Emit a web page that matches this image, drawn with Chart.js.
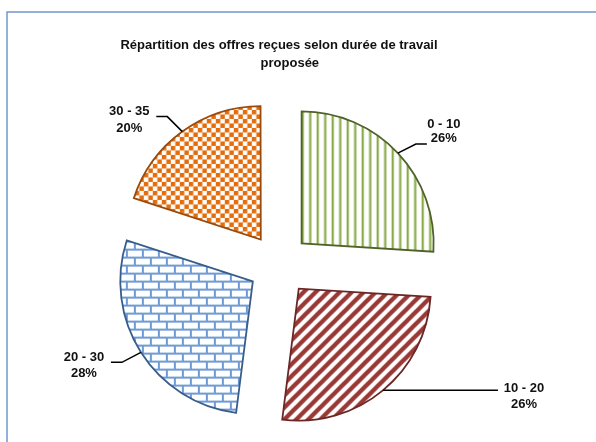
<!DOCTYPE html>
<html><head><meta charset="utf-8">
<script src="https://cdn.jsdelivr.net/npm/chart.js@4"></script>
<style>html,body{margin:0;padding:0;background:#fff;overflow:hidden}#wrap{width:596px;height:442px;position:relative}</style>
</head><body><div id="wrap"><canvas id="c" width="596" height="442"></canvas></div>
<script>
// ---- data ----
const categories = ['0 - 10', '10 - 20', '20 - 30', '30 - 35'];
const shares = [26, 26, 28, 20];
const titleLines = ['Répartition des offres reçues selon durée de travail', '\u00a0\u00a0\u00a0\u00a0\u00a0\u00a0proposée'];

// ---- styling / label placement (not data) ----
const borderColors = ['#4f6228', '#6b2626', '#385d8a', '#9a4a0c'];
const leaderElbows = [[18, -9], [0, 0], [-19, 10], [-15, -15]];
const leaderRuns = [11, 115, -11, -11];
const labelOffsets = [[17, -20, -6], [26, -2, 14], [-27, -5, 11], [-27, -5, 12]];
const FONT = '"Liberation Sans", Arial, sans-serif';

function tile(w, h, draw) {
  const c = document.createElement('canvas');
  c.width = w; c.height = h;
  const g = c.getContext('2d');
  g.fillStyle = '#fff'; g.fillRect(0, 0, w, h);
  draw(g, w, h);
  return g.createPattern(c, 'repeat');
}
const greenPattern = tile(15, 15, g => {
  g.fillStyle = '#88aa48';
  g.fillRect(1.5, 0, 2.2, 15);
  g.fillRect(9, 0, 2.2, 15);
});
const redPattern = tile(12, 12, g => {
  g.strokeStyle = '#9a3835'; g.lineWidth = 4.4;
  for (let k = -1; k <= 1; k++) {
    g.beginPath(); g.moveTo(k * 12 - 3, 15); g.lineTo(k * 12 + 15, -3); g.stroke();
  }
});
const bluePattern = tile(16, 16, g => {
  g.fillStyle = '#6e9ad6';
  g.fillRect(0, 0, 16, 2);
  g.fillRect(0, 8, 16, 2);
  g.fillRect(0, 0, 2, 8);
  g.fillRect(8, 8, 2, 8);
});
const orangePattern = tile(9, 9, g => {
  g.fillStyle = '#e46c0a';
  g.fillRect(0, 0, 4.5, 4.5);
  g.fillRect(4.5, 4.5, 4.5, 4.5);
});

const framePlugin = {
  id: 'frame',
  beforeDraw(chart) {
    const ctx = chart.ctx;
    ctx.save();
    ctx.strokeStyle = '#7099d0'; ctx.lineWidth = 1.5;
    ctx.beginPath(); ctx.moveTo(7, 442); ctx.lineTo(7, 12); ctx.lineTo(596, 12); ctx.stroke();
    ctx.restore();
  }
};

const labelPlugin = {
  id: 'sliceLabels',
  afterDatasetsDraw(chart) {
    const ctx = chart.ctx;
    const meta = chart.getDatasetMeta(0);
    const total = shares.reduce((a, b) => a + b, 0);
    ctx.save();
    meta.data.forEach((arc, i) => {
      const p = arc.getProps(['x', 'y', 'startAngle', 'endAngle', 'outerRadius', 'circumference'], true);
      const off = (arc.options.offset || 0) / 4;
      const fix = 1 - Math.sin(Math.min(Math.PI, p.circumference || 0));
      const mid = (p.startAngle + p.endAngle) / 2;
      const r = off + p.outerRadius + off * fix;
      const bx = p.x + Math.cos(mid) * r, by = p.y + Math.sin(mid) * r;
      const ex = bx + leaderElbows[i][0], ey = by + leaderElbows[i][1];
      const fx = ex + leaderRuns[i], fy = ey;
      ctx.strokeStyle = '#000'; ctx.lineWidth = 1.5;
      ctx.beginPath(); ctx.moveTo(bx, by); ctx.lineTo(ex, ey); ctx.lineTo(fx, fy); ctx.stroke();
      ctx.fillStyle = '#111';
      ctx.font = 'bold 13px ' + FONT;
      ctx.textAlign = 'center'; ctx.textBaseline = 'middle';
      const o = labelOffsets[i];
      ctx.fillText(categories[i], fx + o[0], fy + o[1]);
      ctx.fillText(Math.round(shares[i] / total * 100) + '%', fx + o[0], fy + o[2]);
    });
    ctx.restore();
  }
};

new Chart(document.getElementById('c'), {
  type: 'pie',
  data: {
    labels: categories,
    datasets: [{
      data: shares,
      backgroundColor: [greenPattern, redPattern, bluePattern, orangePattern],
      borderColor: borderColors,
      borderWidth: 1.8,
      borderJoinStyle: 'miter',
      offset: 124,
      hoverOffset: 124,
      clip: false
    }]
  },
  options: {
    responsive: false,
    animation: false,
    radius: 132,
    rotation: 0,
    layout: { padding: { left: 0, right: 38, top: 0, bottom: 0 } },
    events: [],
    plugins: {
      legend: { display: false },
      tooltip: { enabled: false },
      title: {
        display: true,
        text: titleLines,
        color: '#111',
        font: { family: FONT, size: 13, weight: 'bold', lineHeight: 1.4 },
        padding: { top: 36, bottom: 15 }
      }
    }
  },
  plugins: [framePlugin, labelPlugin]
});
</script>
</body></html>
